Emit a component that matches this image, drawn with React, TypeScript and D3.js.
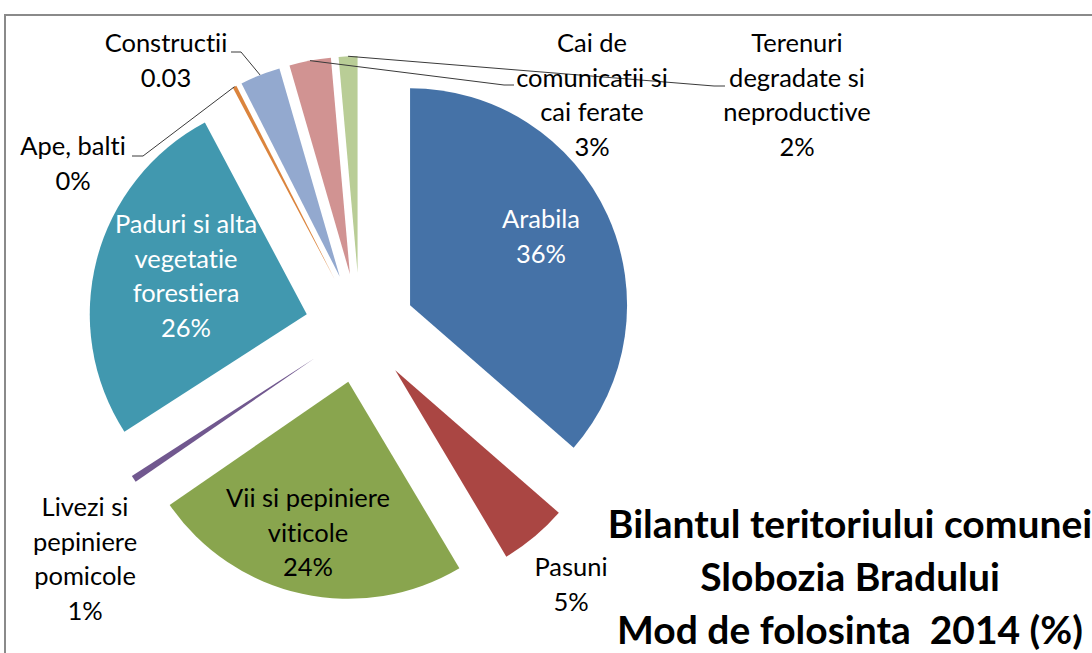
import React from "react";
import * as d3 from "d3";

const categories = [
  "Arabila",
  "Pasuni",
  "Vii si pepiniere viticole",
  "Livezi si pepiniere pomicole",
  "Paduri si alta vegetatie forestiera",
  "Ape, balti",
  "Constructii",
  "Cai de comunicatii si cai ferate",
  "Terenuri degradate si neproductive",
];
const values = [36.5, 5.05, 24.0, 0.5, 26.4, 0.3, 3.0, 3.1, 1.4];
const valueLabels = ["36%", "5%", "24%", "1%", "26%", "0%", "0.03", "3%", "2%"];
const colors = [
  "#4572A7",
  "#AA4643",
  "#89A54E",
  "#71588F",
  "#4198AF",
  "#DB843D",
  "#93A9CF",
  "#D19392",
  "#B9CD96",
];
const titleLines = ["Bilantul teritoriului comunei", "Slobozia Bradului", "Mod de folosinta  2014 (%)"];

// layout (positions only)
const W = 1092;
const H = 653;
const CX = 360;
const CY = 328;
const R = 217;
const EXPLODE = 55;
const FONT = "Lato, 'Open Sans', sans-serif";
const LABEL_SIZE = 25.5;
const LINE_H = 34.5;

type LabelLayout = {
  lines: string[];
  x: number;
  y: number;
  fill: string;
  leader?: [number, number][];
};

const labelLayout: LabelLayout[] = [
  { lines: ["Arabila"], x: 541, y: 228, fill: "#fff" },
  { lines: ["Pasuni"], x: 571, y: 576, fill: "#000" },
  { lines: ["Vii si pepiniere", "viticole"], x: 308, y: 507, fill: "#000" },
  { lines: ["Livezi si", "pepiniere", "pomicole"], x: 85, y: 516, fill: "#000" },
  { lines: ["Paduri si alta", "vegetatie", "forestiera"], x: 186, y: 233, fill: "#fff" },
  { lines: ["Ape, balti"], x: 73, y: 155, fill: "#000", leader: [[143, 156], [132, 156]] },
  { lines: ["Constructii"], x: 166, y: 52, fill: "#000", leader: [[241, 52], [231, 52]] },
  { lines: ["Cai de", "comunicatii si", "cai ferate"], x: 592, y: 52, fill: "#000", leader: [[504, 85], [514, 85]] },
  { lines: ["Terenuri", "degradate si", "neproductive"], x: 797, y: 52, fill: "#000", leader: [[714, 86], [725, 86]] },
];

export default function App() {
  const pie = d3
    .pie<number>()
    .sort(null)
    .value((d) => d)
    .startAngle(0)
    .endAngle(2 * Math.PI);
  const arcs = pie(values);
  const arcGen = d3.arc<d3.PieArcDatum<number>>().innerRadius(0).outerRadius(R);

  const offsetOf = (a: d3.PieArcDatum<number>, dist: number) => {
    const mid = (a.startAngle + a.endAngle) / 2;
    return [Math.sin(mid) * dist, -Math.cos(mid) * dist];
  };

  return (
    <svg
      width={W}
      height={H}
      style={{
        position: "absolute",
        left: 0,
        top: 0,
        display: "block",
        fontVariantLigatures: "none",
        whiteSpace: "pre",
      }}
      fontFamily={FONT}
    >
      <rect x={0} y={0} width={W} height={H} fill="#fff" />
      <rect x={5} y={15} width={W + 100} height={H + 100} fill="#fff" stroke="#8a8a8a" strokeWidth={2} />
      <g transform={`translate(${CX},${CY})`}>
        {arcs.map((a, i) => {
          const [dx, dy] = offsetOf(a, EXPLODE);
          return (
            <path
              key={categories[i]}
              d={arcGen(a) || ""}
              transform={`translate(${dx},${dy})`}
              fill={colors[i]}
            />
          );
        })}
      </g>
      {arcs.map((a, i) => {
        const lay = labelLayout[i];
        if (!lay.leader) return null;
        const [ox, oy] = offsetOf(a, EXPLODE + R);
        const pts: [number, number][] = [[CX + ox, CY + oy], ...lay.leader];
        const line = d3.line()(pts) || "";
        return <path key={"l" + i} d={line} fill="none" stroke="#3a3a3a" strokeWidth={1} />;
      })}
      {arcs.map((a, i) => {
        const lay = labelLayout[i];
        const lines = [...lay.lines, valueLabels[i]];
        return (
          <text
            key={"t" + i}
            x={lay.x}
            y={lay.y}
            fill={lay.fill}
            fontSize={LABEL_SIZE}
            textAnchor="middle"
          >
            {lines.map((ln, j) => (
              <tspan key={j} x={lay.x} y={lay.y + j * LINE_H}>
                {ln}
              </tspan>
            ))}
          </text>
        );
      })}
      <text fontSize={39} fontWeight="bold" textAnchor="middle" fill="#000" xmlSpace="preserve">
        {titleLines.map((ln, j) => (
          <tspan key={j} x={850} y={538 + j * 53}>
            {ln}
          </tspan>
        ))}
      </text>
    </svg>
  );
}
